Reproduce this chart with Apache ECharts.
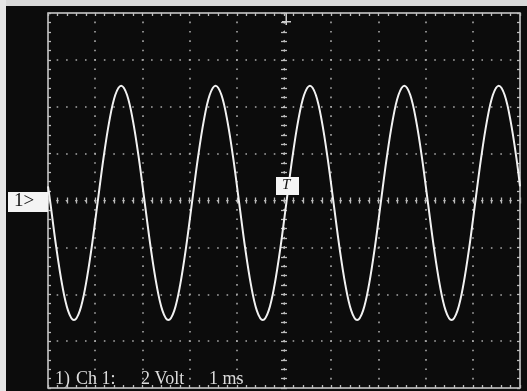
<!DOCTYPE html>
<html>
<head>
<meta charset="utf-8">
<script src="https://cdn.jsdelivr.net/npm/echarts@6/dist/echarts.min.js"></script>
<style>
html,body{margin:0;padding:0;background:#0c0c0c;}
#c{width:527px;height:391px;}
</style>
</head>
<body>
<div id="c"></div>
<script>
// Time axis (ms, trigger at 0) and vertical axis (V), 1 ms/div, 2 V/div
var xTicks = [-5, 5, 1];      // min, max, interval
var yTicks = [-8, 8, 2];
var times = [
  -5.0,
  -4.95, -4.825, -4.7, -4.575, -4.45, -4.325, -4.2, -4.075, -3.95, -3.825, -3.7, -3.575, -3.45, -3.325, -3.2, -3.075,
  -2.95, -2.825, -2.7, -2.575, -2.45, -2.325, -2.2, -2.075, -1.95, -1.825, -1.7, -1.575, -1.45, -1.325, -1.2, -1.075,
  -0.95, -0.825, -0.7, -0.575, -0.45, -0.325, -0.2, -0.075, 0.05, 0.175, 0.3, 0.425, 0.55, 0.675, 0.8, 0.925,
  1.05, 1.175, 1.3, 1.425, 1.55, 1.675, 1.8, 1.925, 2.05, 2.175, 2.3, 2.425, 2.55, 2.675, 2.8, 2.925,
  3.05, 3.175, 3.3, 3.425, 3.55, 3.675, 3.8, 3.925, 4.05, 4.175, 4.3, 4.425, 4.55, 4.675, 4.8, 4.925,
  5.0
];
var volts = [
  0.6,
  -0.1, -2.0, -3.6, -4.7, -5.1, -4.7, -3.6, -2.0, -0.1, 1.8, 3.4, 4.5, 4.9, 4.5, 3.4, 1.8,
  -0.1, -2.0, -3.6, -4.7, -5.1, -4.7, -3.6, -2.0, -0.1, 1.8, 3.4, 4.5, 4.9, 4.5, 3.4, 1.8,
  -0.1, -2.0, -3.6, -4.7, -5.1, -4.7, -3.6, -2.0, -0.1, 1.8, 3.4, 4.5, 4.9, 4.5, 3.4, 1.8,
  -0.1, -2.0, -3.6, -4.7, -5.1, -4.7, -3.6, -2.0, -0.1, 1.8, 3.4, 4.5, 4.9, 4.5, 3.4, 1.8,
  -0.1, -2.0, -3.6, -4.7, -5.1, -4.7, -3.6, -2.0, -0.1, 1.8, 3.4, 4.5, 4.9, 4.5, 3.4, 1.8,
  0.6
];
var channelLabel = "1>";
var triggerLabel = "T";
var statusTexts = ["1)", "Ch 1:", "2 Volt", "1 ms"];

var trace = times.map(function (t, i) { return [t, volts[i]]; });

var chart = echarts.init(document.getElementById('c'), null, {renderer: 'canvas'});

var dotX = {color: '#a8a8a8', width: 1.6, type: [1.6, 7.775], dashOffset: 0.8};
var dotY = {color: '#a8a8a8', width: 1.6, type: [1.6, 7.84], dashOffset: 0.8};

function xAx(pos, onZero, showLine, tickLen, split) {
  return {
    type: 'value', min: xTicks[0], max: xTicks[1], interval: xTicks[2], position: pos,
    axisLine: {show: showLine, onZero: onZero, lineStyle: {color: '#b8b8b8', width: 1, type: [1.6, 7.84], dashOffset: 0.8}},
    axisTick: {show: true, inside: true, length: tickLen, lineStyle: {color: '#bdbdbd', width: 1.3}},
    minorTick: {show: true, splitNumber: 5, length: tickLen, lineStyle: {color: '#bdbdbd', width: 1.3}},
    axisLabel: {show: false},
    splitLine: {show: split, lineStyle: dotX},
    minorSplitLine: {show: false}
  };
}
function yAx(pos, onZero, showLine, tickLen, split) {
  return {
    type: 'value', min: yTicks[0], max: yTicks[1], interval: yTicks[2], position: pos,
    axisLine: {show: showLine, onZero: onZero, lineStyle: {color: '#b8b8b8', width: 1, type: [1.6, 7.775], dashOffset: 0.8}},
    axisTick: {show: true, inside: true, length: tickLen, lineStyle: {color: '#bdbdbd', width: 1.3}},
    minorTick: {show: true, splitNumber: 5, length: tickLen, lineStyle: {color: '#bdbdbd', width: 1.3}},
    axisLabel: {show: false},
    splitLine: {show: split, lineStyle: dotY},
    minorSplitLine: {show: false}
  };
}

var txtFont = '18px "Liberation Serif", serif';

var option = {
  backgroundColor: '#0c0c0c',
  animation: false,
  grid: {left: 48, top: 13, width: 472, height: 375, show: true, borderColor: '#d2d2d2', borderWidth: 1.5, backgroundColor: 'transparent'},
  xAxis: [
    xAx('bottom', true, true, 3, true),
    xAx('top', true, false, 3, false),
    xAx('top', false, false, 3, false),
    xAx('bottom', false, false, 3, false)
  ],
  yAxis: [
    yAx('left', true, true, 3, true),
    yAx('right', true, false, 3, false),
    yAx('left', false, false, 3, false),
    yAx('right', false, false, 3, false)
  ],
  series: [{
    type: 'line', xAxisIndex: 0, yAxisIndex: 0, data: trace,
    smooth: 0.35, showSymbol: false, symbol: 'none',
    lineStyle: {color: '#f2f2f2', width: 2}, clip: true, z: 5
  }],
  graphic: [
    {type: 'rect', left: 0, top: 0, shape: {width: 527, height: 6}, style: {fill: '#d9d9d9'}, silent: true},
    {type: 'rect', left: 0, top: 0, shape: {width: 6, height: 391}, style: {fill: '#e6e6e6'}, silent: true},
    {type: 'rect', left: 8, top: 192, shape: {width: 40, height: 20}, style: {fill: '#f4f4f4'}, z: 10},
    {type: 'text', left: 14, top: 192, z: 11, style: {text: channelLabel, fill: '#111', font: '19px "Liberation Serif", serif'}},
    {type: 'rect', left: 276, top: 177, shape: {width: 23, height: 18}, style: {fill: '#f4f4f4'}, z: 10},
    {type: 'text', left: 282, top: 178, z: 11, style: {text: triggerLabel, fill: '#111', font: 'italic 15px "Liberation Serif", serif'}},
    {type: 'rect', left: 285.5, top: 13, shape: {width: 1.5, height: 12}, style: {fill: '#cfcfcf'}, z: 10},
    {type: 'rect', left: 282, top: 21, shape: {width: 9, height: 1.5}, style: {fill: '#cfcfcf'}, z: 10},
    {type: 'text', left: 55, top: 370, z: 11, style: {text: statusTexts[0], fill: '#dcdcdc', font: txtFont}},
    {type: 'text', left: 76, top: 370, z: 11, style: {text: statusTexts[1], fill: '#dcdcdc', font: txtFont}},
    {type: 'text', left: 141, top: 370, z: 11, style: {text: statusTexts[2], fill: '#dcdcdc', font: txtFont}},
    {type: 'text', left: 209, top: 370, z: 11, style: {text: statusTexts[3], fill: '#dcdcdc', font: txtFont}}
  ]
};
chart.setOption(option);
</script>
</body>
</html>
